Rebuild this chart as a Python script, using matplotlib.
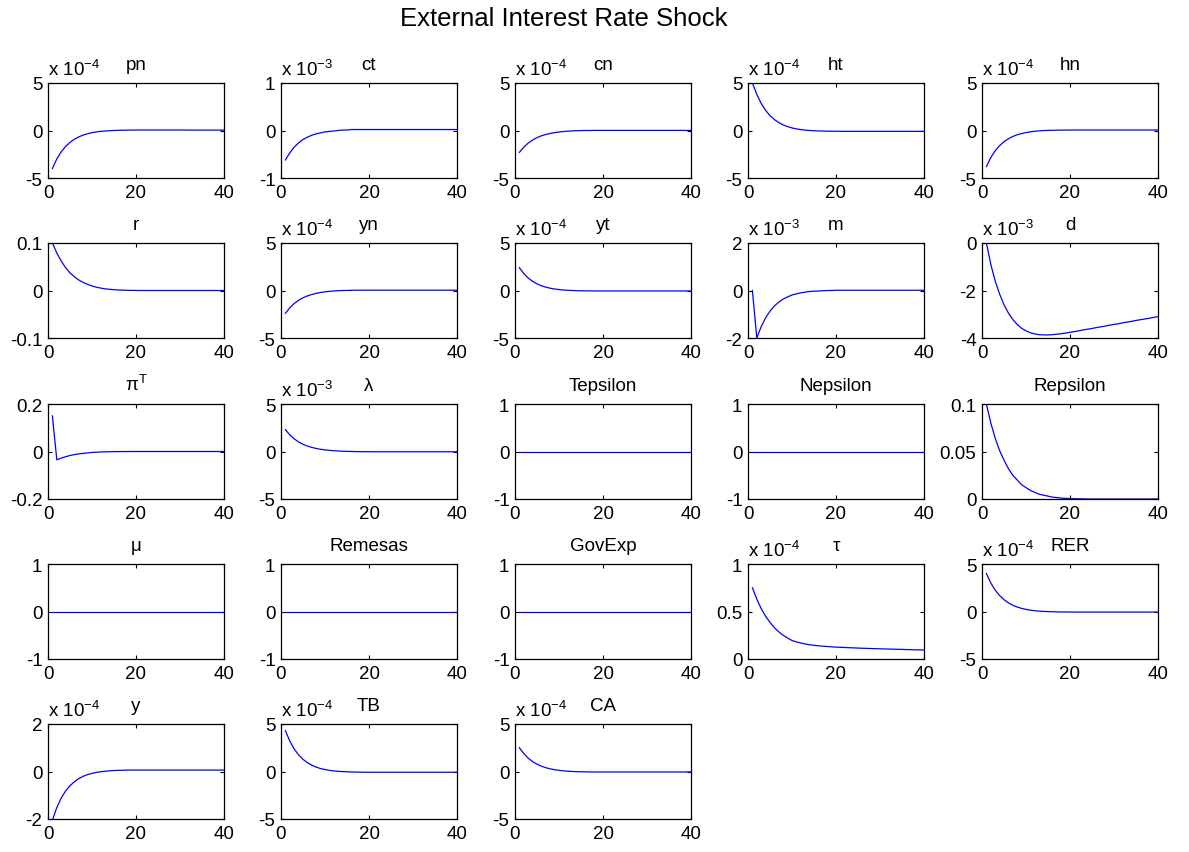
import numpy as np
import matplotlib
matplotlib.use("Agg")
import matplotlib.pyplot as plt
from matplotlib.ticker import FormatStrFormatter

plt.rcParams['font.family'] = ['Liberation Sans', 'DejaVu Sans']
plt.rcParams['mathtext.default'] = 'regular'
plt.rcParams['axes.unicode_minus'] = False

# ----------------------------
# Impulse responses (values as shown on each panel, i.e. already scaled)
# ----------------------------
t = np.arange(1, 41)

pn = [-4.0, -3.0, -2.25, -1.68, -1.25, -0.92, -0.67, -0.48, -0.34, -0.23,
      -0.15, -0.09, -0.05, -0.02, 0.0, 0.02, 0.03, 0.04, 0.04, 0.05] + [0.05] * 11 + [0.04] * 9
ct = [-0.62, -0.47, -0.35, -0.26, -0.19, -0.14, -0.10, -0.07, -0.05, -0.03,
      -0.02, -0.01, 0.0, 0.01, 0.01, 0.02, 0.02, 0.02, 0.02, 0.02] + [0.02] * 20
cn = [-2.3, -1.75, -1.32, -1.0, -0.75, -0.56, -0.42, -0.31, -0.22, -0.16,
      -0.11, -0.07, -0.04, -0.02, -0.01, 0.0, 0.0, 0.01, 0.01, 0.01] + [0.01] * 20
ht = [5.0, 3.8, 2.85, 2.12, 1.57, 1.15, 0.83, 0.59, 0.41, 0.27,
      0.17, 0.10, 0.04, 0.0, -0.03, -0.05, -0.06, -0.07, -0.08, -0.08] + [-0.09] * 20
hn = [-3.8, -2.85, -2.13, -1.59, -1.18, -0.87, -0.63, -0.45, -0.32, -0.22,
      -0.14, -0.08, -0.04, -0.01, 0.01, 0.02, 0.03, 0.04, 0.04, 0.05] + [0.05] * 20
r = [0.1, 0.079, 0.062, 0.048, 0.037, 0.029, 0.022, 0.017, 0.013, 0.0095,
     0.007, 0.005, 0.0035, 0.0025, 0.0017, 0.0011, 0.0007, 0.0004, 0.0002, 0.0001] + [0.0] * 20
yn = [-2.4, -1.82, -1.37, -1.03, -0.77, -0.57, -0.42, -0.30, -0.21, -0.14,
      -0.09, -0.05, -0.02, 0.0, 0.01, 0.02, 0.03, 0.03, 0.03, 0.03] + [0.03] * 20
yt = [2.4, 1.78, 1.31, 0.96, 0.70, 0.50, 0.35, 0.24, 0.16, 0.10,
      0.05, 0.02, 0.0, -0.02, -0.03, -0.04, -0.04, -0.05, -0.05, -0.05] + [-0.05] * 20
m = [0.0, -2.0, -1.52, -1.15, -0.87, -0.65, -0.49, -0.36, -0.27, -0.19,
     -0.14, -0.10, -0.07, -0.04, -0.03, -0.02, -0.01, 0.0, 0.0, 0.01] + [0.01] * 20
d = [0.0, -0.9, -1.6, -2.15, -2.6, -2.95, -3.22, -3.43, -3.59, -3.70,
     -3.78, -3.83, -3.86, -3.87, -3.87, -3.86, -3.84, -3.82, -3.79, -3.76,
     -3.73, -3.70, -3.66, -3.63, -3.60, -3.56, -3.53, -3.50, -3.46, -3.43,
     -3.40, -3.36, -3.33, -3.30, -3.26, -3.23, -3.20, -3.17, -3.13, -3.10]
piT = [0.15, -0.035, -0.028, -0.022, -0.017, -0.013, -0.010, -0.008, -0.006, -0.004,
       -0.003, -0.002, -0.0015, -0.001, -0.0007, -0.0005, -0.0003, -0.0002, -0.0001, 0.0] + [0.0] * 20
lam = [2.3, 1.75, 1.33, 1.0, 0.76, 0.57, 0.43, 0.32, 0.23, 0.17,
       0.12, 0.08, 0.05, 0.03, 0.01, 0.0, -0.01, -0.02, -0.02, -0.02] + [-0.03] * 20
Tepsilon = [0.0] * 40
Nepsilon = [0.0] * 40
Repsilon = [0.1, 0.08, 0.064, 0.051, 0.041, 0.032, 0.025, 0.02, 0.015, 0.012,
            0.009, 0.007, 0.005, 0.004, 0.003, 0.002, 0.0015, 0.001, 0.0007, 0.0005,
            0.0003, 0.0002, 0.0001] + [0.0] * 17
mu = [0.0] * 40
Remesas = [0.0] * 40
GovExp = [0.0] * 40
tau = [0.75, 0.63, 0.53, 0.45, 0.385, 0.33, 0.285, 0.25, 0.22, 0.195,
       0.18, 0.168, 0.158, 0.15, 0.144, 0.139, 0.135, 0.131, 0.128, 0.125,
       0.123, 0.121, 0.119, 0.117, 0.115, 0.113, 0.112, 0.110, 0.109, 0.107,
       0.106, 0.105, 0.103, 0.102, 0.101, 0.099, 0.098, 0.097, 0.096, 0.095]
RER = [4.0, 3.0, 2.25, 1.68, 1.24, 0.91, 0.66, 0.47, 0.33, 0.22,
       0.14, 0.08, 0.04, 0.01, -0.01, -0.03, -0.04, -0.05, -0.05, -0.06] + [-0.06] * 20
y = [-2.05, -1.52, -1.12, -0.82, -0.60, -0.43, -0.30, -0.20, -0.13, -0.08,
     -0.04, -0.01, 0.01, 0.03, 0.04, 0.05, 0.05, 0.06, 0.06, 0.06] + [0.06] * 20
TB = [4.3, 3.2, 2.37, 1.75, 1.28, 0.93, 0.66, 0.46, 0.31, 0.20,
      0.12, 0.06, 0.02, -0.01, -0.03, -0.05, -0.06, -0.07, -0.08, -0.08] + [-0.08] * 20
CA = [2.5, 1.88, 1.4, 1.04, 0.77, 0.56, 0.40, 0.28, 0.19, 0.12,
      0.07, 0.03, 0.0, -0.02, -0.03, -0.04, -0.05, -0.05, -0.05, -0.05] + [-0.05] * 20

titles = ['pn', 'ct', 'cn', 'ht', 'hn',
          'r', 'yn', 'yt', 'm', 'd',
          'π$^{T}$', 'λ', 'Tepsilon', 'Nepsilon', 'Repsilon',
          'μ', 'Remesas', 'GovExp', 'τ', 'RER',
          'y', 'TB', 'CA']
series = [pn, ct, cn, ht, hn,
          r, yn, yt, m, d,
          piT, lam, Tepsilon, Nepsilon, Repsilon,
          mu, Remesas, GovExp, tau, RER,
          y, TB, CA]
exponents = [-4, -3, -4, -4, -4,
             None, -4, -4, -3, -3,
             None, -3, None, None, None,
             None, None, None, -4, -4,
             -4, -4, -4]
ylims = [(-5, 5), (-1, 1), (-5, 5), (-5, 5), (-5, 5),
         (-0.1, 0.1), (-5, 5), (-5, 5), (-2, 2), (-4, 0),
         (-0.2, 0.2), (-5, 5), (-1, 1), (-1, 1), (0, 0.1),
         (-1, 1), (-1, 1), (-1, 1), (0, 1), (-5, 5),
         (-2, 2), (-5, 5), (-5, 5)]

# ----------------------------
# Figure
# ----------------------------
W, H = 1189, 853
fig = plt.figure(figsize=(W / 100, H / 100), dpi=100)
fig.text(564 / W, 1 - 19 / H, 'External Interest Rate Shock', ha='center', va='center', fontsize=18.5)

lefts = [48, 281, 515, 748, 982]
tops = [84, 244, 405, 565, 725]
aw, ah = 176, 95

for i, (tit, s, ex, yl) in enumerate(zip(titles, series, exponents, ylims)):
    row, col = divmod(i, 5)
    ax = fig.add_axes([lefts[col] / W, 1 - (tops[row] + ah) / H, aw / W, ah / H])
    ax.plot(t, s, color='#0000ff', lw=0.9)
    ax.set_xlim(0, 40)
    ax.set_ylim(*yl)
    ax.set_xticks([0, 20, 40])
    ax.set_yticks([yl[0], (yl[0] + yl[1]) / 2, yl[1]])
    ax.yaxis.set_major_formatter(FormatStrFormatter('%g'))
    ax.tick_params(direction='in', top=True, right=True, length=3, width=0.8,
                   labelsize=13.5, pad=4)
    for sp in ax.spines.values():
        sp.set_linewidth(0.9)
    ax.set_title(tit, fontsize=13.5, pad=10)
    if ex is not None:
        ax.text(0, 1 + 8 / ah, 'x 10$^{%d}$' % ex, transform=ax.transAxes,
                ha='left', va='baseline', fontsize=13.5)

fig.savefig('out.png', dpi=100)
